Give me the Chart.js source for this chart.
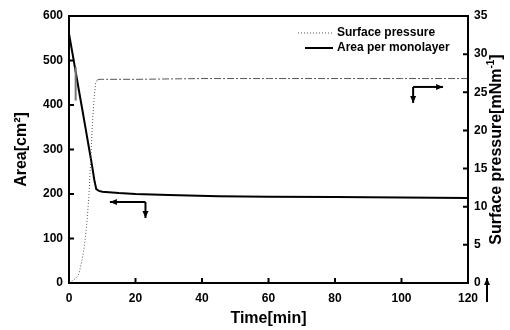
<!DOCTYPE html>
<html>
<head>
<meta charset="utf-8">
<script src="https://cdn.jsdelivr.net/npm/chart.js@4.4.1/dist/chart.umd.min.js"></script>
<style>
  html, body { margin: 0; padding: 0; background: #fff; }
  #wrap { width: 510px; height: 330px; }
</style>
</head>
<body>
<div id="wrap"><canvas id="grafico" width="510" height="330"></canvas></div>
<script>
// Valores
const tempoArea = [0, 1, 2, 3, 4, 5, 6, 7, 7.6, 8.2, 9, 10, 15, 20, 30, 45, 60, 80, 100, 120];
const area = [560, 518, 475, 432, 390, 347, 304, 261, 232, 211, 207, 205, 202, 200, 198, 195, 194, 193, 192, 191];

const tempoPressao = [0, 1, 2, 3, 4, 4.5, 5, 5.5, 6, 6.5, 7, 7.5, 8, 8.5, 9, 10, 20, 40, 60, 80, 100, 120];
const pressao = [0.1, 0.3, 0.6, 1.2, 3.2, 4.5, 6.2, 8.5, 11.5, 16, 20.5, 24, 26.2, 26.6, 26.7, 26.7, 26.7, 26.8, 26.8, 26.8, 26.8, 26.8];

const rotulos = ['Surface pressure', 'Area per monolayer'];

const fonte = '"Liberation Sans", Arial, Helvetica, sans-serif';

function pontos(xs, ys) {
    return xs.map((x, i) => ({ x: x, y: ys[i] }));
}

function seta(ctx, x1, y1, x2, y2) {
    const ang = Math.atan2(y2 - y1, x2 - x1);
    ctx.beginPath();
    ctx.moveTo(x1, y1);
    ctx.lineTo(x2, y2);
    ctx.stroke();
    ctx.beginPath();
    ctx.moveTo(x2, y2);
    ctx.lineTo(x2 - 7 * Math.cos(ang) + 3 * Math.sin(ang), y2 - 7 * Math.sin(ang) - 3 * Math.cos(ang));
    ctx.lineTo(x2 - 7 * Math.cos(ang) - 3 * Math.sin(ang), y2 - 7 * Math.sin(ang) + 3 * Math.cos(ang));
    ctx.closePath();
    ctx.fill();
}

// moldura, ticks para dentro, titulo da direita, legenda e setas
const extras = {
    id: 'extras',
    afterDraw(chart) {
        const { ctx, chartArea: a, scales } = chart;
        const sx = scales.x, sy = scales.y, sy1 = scales.y1;
        ctx.save();
        ctx.strokeStyle = '#000';
        ctx.fillStyle = '#000';
        ctx.lineWidth = 2;
        ctx.strokeRect(a.left, a.top, a.right - a.left, a.bottom - a.top);

        ctx.beginPath();
        sx.ticks.forEach(t => {
            const px = sx.getPixelForValue(t.value);
            ctx.moveTo(px, a.bottom); ctx.lineTo(px, a.bottom - 5);
        });
        sy.ticks.forEach(t => {
            const py = sy.getPixelForValue(t.value);
            ctx.moveTo(a.left, py); ctx.lineTo(a.left + 5, py);
        });
        sy1.ticks.forEach(t => {
            const py = sy1.getPixelForValue(t.value);
            ctx.moveTo(a.right, py); ctx.lineTo(a.right - 5, py);
        });
        ctx.stroke();

        // titulo do eixo direito (de baixo para cima)
        ctx.save();
        ctx.translate(497, (a.top + a.bottom) / 2);
        ctx.rotate(-Math.PI / 2);
        ctx.textBaseline = 'middle';
        ctx.textAlign = 'left';
        const p1 = 'Surface pressure[mNm', sup = '-1', p2 = ']';
        ctx.font = 'bold 16px ' + fonte;
        const w1 = ctx.measureText(p1).width, w2 = ctx.measureText(p2).width;
        ctx.font = 'bold 10px ' + fonte;
        const ws = ctx.measureText(sup).width;
        let x0 = -(w1 + ws + w2) / 2;
        ctx.font = 'bold 16px ' + fonte;
        ctx.fillText(p1, x0, 0);
        ctx.font = 'bold 10px ' + fonte;
        ctx.fillText(sup, x0 + w1, -6);
        ctx.font = 'bold 16px ' + fonte;
        ctx.fillText(p2, x0 + w1 + ws, 0);
        ctx.restore();

        // legenda
        ctx.font = 'bold 12px ' + fonte;
        ctx.textBaseline = 'middle';
        ctx.textAlign = 'left';
        const ds = chart.data.datasets;
        ctx.save();
        ctx.strokeStyle = '#555';
        ctx.lineWidth = 1;
        ctx.setLineDash([1, 2]);
        ctx.beginPath(); ctx.moveTo(298, 33); ctx.lineTo(333, 33); ctx.stroke();
        ctx.restore();
        ctx.fillText(ds[0].label, 337, 33);
        ctx.save();
        ctx.lineWidth = 2;
        ctx.beginPath(); ctx.moveTo(305, 48); ctx.lineTo(333, 48); ctx.stroke();
        ctx.restore();
        ctx.fillText(ds[1].label, 337, 48);

        // setas indicando o eixo de cada curva
        ctx.lineWidth = 2;
        const cx = sx.getPixelForValue(23), cy = sy.getPixelForValue(182);
        seta(ctx, cx, cy, sx.getPixelForValue(12.3), cy);
        seta(ctx, cx, cy, cx, sy.getPixelForValue(146));
        const dx = sx.getPixelForValue(103.5), dy = sy1.getPixelForValue(25.7);
        seta(ctx, dx, dy, sx.getPixelForValue(112.5), dy);
        seta(ctx, dx, dy, dx, sy1.getPixelForValue(23.6));
        seta(ctx, a.right + 19, 302, a.right + 19, 278);

        // pequeno traço cinza perto do inicio
        ctx.strokeStyle = '#777';
        ctx.beginPath();
        ctx.moveTo(sx.getPixelForValue(2), sy.getPixelForValue(485));
        ctx.lineTo(sx.getPixelForValue(2), sy.getPixelForValue(410));
        ctx.stroke();
        ctx.restore();
    }
};

const ctx = document.getElementById('grafico').getContext('2d');

new Chart(ctx, {
    type: 'line',
    data: {
        datasets: [{
            label: rotulos[0],
            data: pontos(tempoPressao, pressao),
            yAxisID: 'y1',
            borderColor: '#555',
            borderWidth: 1,
            pointRadius: 0,
            borderDash: [1, 2],
            segment: {
                borderDash: c => c.p0.parsed.x >= 8.5 ? [7, 2, 2, 2] : [1, 2]
            }
        }, {
            label: rotulos[1],
            data: pontos(tempoArea, area),
            yAxisID: 'y',
            borderColor: '#000',
            borderWidth: 2,
            pointRadius: 0
        }]
    },
    options: {
        responsive: false,
        animation: false,
        devicePixelRatio: 1,
        layout: { padding: { top: 16, left: 0, right: 0, bottom: 0 } },
        plugins: {
            legend: { display: false },
            tooltip: { enabled: false }
        },
        scales: {
            x: {
                type: 'linear',
                min: 0,
                max: 120,
                afterFit: s => { s.height = 47; },
                grid: { display: false, drawTicks: false },
                border: { display: false },
                ticks: {
                    stepSize: 20,
                    maxRotation: 0,
                    padding: 8,
                    color: '#000',
                    font: { family: fonte, size: 12, weight: 'bold' }
                },
                title: {
                    display: true,
                    text: 'Time[min]',
                    color: '#000',
                    padding: { top: 2, bottom: 2 },
                    font: { family: fonte, size: 16, weight: 'bold' }
                }
            },
            y: {
                position: 'left',
                min: 0,
                max: 600,
                afterFit: s => { s.width = 69; },
                grid: { display: false, drawTicks: false },
                border: { display: false },
                ticks: {
                    stepSize: 100,
                    padding: 6,
                    color: '#000',
                    font: { family: fonte, size: 12, weight: 'bold' }
                },
                title: {
                    display: true,
                    text: 'Area[cm²]',
                    color: '#000',
                    padding: { top: 12, bottom: 12 },
                    font: { family: fonte, size: 16, weight: 'bold' }
                }
            },
            y1: {
                position: 'right',
                min: 0,
                max: 35,
                afterFit: s => { s.width = 42; },
                grid: { display: false, drawTicks: false },
                border: { display: false },
                ticks: {
                    stepSize: 5,
                    padding: 6,
                    color: '#000',
                    font: { family: fonte, size: 12, weight: 'bold' }
                }
            }
        }
    },
    plugins: [extras]
});
</script>
</body>
</html>
